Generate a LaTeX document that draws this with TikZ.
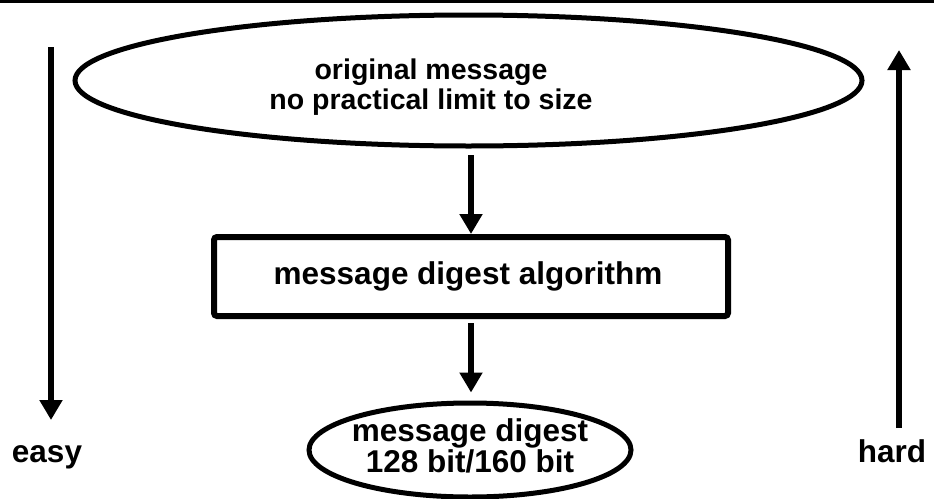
\documentclass[tikz,border=0pt]{standalone}
\usepackage{fontspec}
\setmainfont{Liberation Sans}
\usetikzlibrary{shapes.geometric,arrows.meta}
\begin{document}
\begin{tikzpicture}[x=1pt,y=-1pt,
  oval/.style={draw,ellipse,line width=5pt,inner sep=0pt},
  txtA/.style={font=\bfseries\fontsize{28.5}{30}\selectfont,align=center,inner sep=0pt},
  txtB/.style={font=\bfseries\fontsize{31.5}{32}\selectfont,align=center,inner sep=0pt},
  txtC/.style={font=\bfseries\fontsize{31.5}{30.5}\selectfont,align=center,inner sep=0pt},
  arr/.style={line width=6pt,-{Triangle[width=22pt,length=20pt]}}]
\useasboundingbox (0,0) rectangle (934,498);
\draw[line width=3pt] (0,1.5) -- (934,1.5);
\node[oval,minimum width=787pt,minimum height=131pt] (orig) at (468.5,80.5) {};
\node[txtA] (origtxt) at (431,87) {original message\\no practical limit to size};
\node[draw,line width=6pt,rounded corners=3pt,minimum width=514pt,minimum height=79pt] (algo) at (471,276.5) {};
\node[txtB] (algotxt) at (468,276.5) {message digest algorithm};
\node[oval,minimum width=322pt,minimum height=94pt] (dig) at (470,450) {};
\node[txtC] (digtxt) at (470,446) {message digest\\128 bit/160 bit};
\draw[arr,shorten <=6.5pt] (orig.south -| algo.north) -- (algo.north);
\draw[arr,shorten <=4pt,shorten >=8pt] (algo.south) -- (dig.north -| algo.south);
\coordinate (eT) at (51,47);
\coordinate (eB) at (51,420);
\coordinate (hB) at (899,428);
\coordinate (hT) at (899,50);
\draw[arr] (eT) -- (eB);
\draw[arr] (hB) -- (hT);
\node[txtB,anchor=base] (easy) at (47,462) {easy};
\node[txtB,anchor=base] (hard) at (892,462) {hard};
\end{tikzpicture}
\end{document}
